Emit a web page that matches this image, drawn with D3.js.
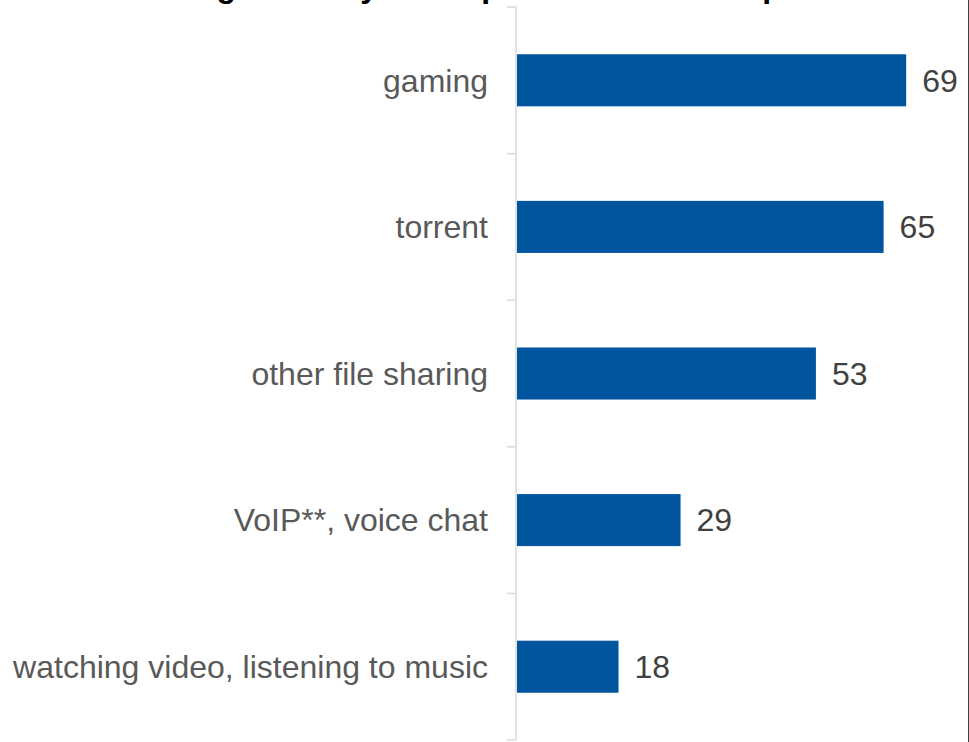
<!DOCTYPE html>
<html>
<head>
<meta charset="utf-8">
<script src="https://cdn.jsdelivr.net/npm/d3@7"></script>
<style>
  html, body { margin: 0; padding: 0; background: #ffffff; }
  svg { display: block; }
  text { font-family: "Liberation Sans", Arial, sans-serif; }
</style>
</head>
<body>
<svg id="chart" width="969" height="742"></svg>
<script>
// Share of users (%) reporting throttling, by activity
const titleText = "Throttling noted by users per online service provider";
const categories = [
  "gaming",
  "torrent",
  "other file sharing",
  "VoIP**, voice chat",
  "watching video, listening to music"
];
const values = [69, 65, 53, 29, 18];

const W = 969, H = 742;
const svg = d3.select("#chart");

const axisX = 516;
const x = d3.scaleLinear().domain([0, 80]).range([axisX + 1, axisX + 1 + 80 * 5.64]);
const y = d3.scaleBand()
  .domain(categories)
  .range([7, 740])
  .paddingInner(0.645)
  .paddingOuter(0.3225);

// Title (sits mostly above the visible area)
svg.append("text")
  .attr("x", W / 2 + 4)
  .attr("y", -3.5)
  .attr("text-anchor", "middle")
  .attr("font-size", 32)
  .attr("font-weight", "bold")
  .attr("fill", "#000000")
  .text(titleText);

// Category axis: vertical line with tick marks at band boundaries
const step = y.step();
const gap = (step - y.bandwidth()) / 2;
const boundaries = categories.map(c => y(c) - gap).concat([y(categories[categories.length - 1]) - gap + step]);

svg.append("line")
  .attr("x1", axisX).attr("x2", axisX)
  .attr("y1", boundaries[0]).attr("y2", boundaries[boundaries.length - 1])
  .attr("stroke", "#d9d9d9").attr("stroke-width", 1.5);

svg.selectAll("line.tick")
  .data(boundaries)
  .join("line")
  .attr("class", "tick")
  .attr("x1", axisX - 9).attr("x2", axisX)
  .attr("y1", d => d).attr("y2", d => d)
  .attr("stroke", "#d9d9d9").attr("stroke-width", 1.5);

// Bars
const data = categories.map((c, i) => ({ cat: c, val: values[i] }));

svg.selectAll("rect.bar")
  .data(data)
  .join("rect")
  .attr("class", "bar")
  .attr("x", x(0))
  .attr("y", d => y(d.cat))
  .attr("width", d => x(d.val) - x(0))
  .attr("height", y.bandwidth())
  .attr("fill", "#00559e");

// Category labels
svg.selectAll("text.cat")
  .data(data)
  .join("text")
  .attr("class", "cat")
  .attr("x", 488)
  .attr("y", d => y(d.cat) + y.bandwidth() / 2)
  .attr("dy", "0.35em")
  .attr("text-anchor", "end")
  .attr("font-size", 32)
  .attr("fill", "#595959")
  .text(d => d.cat);

// Value labels
svg.selectAll("text.val")
  .data(data)
  .join("text")
  .attr("class", "val")
  .attr("x", d => x(d.val) + 16)
  .attr("y", d => y(d.cat) + y.bandwidth() / 2)
  .attr("dy", "0.35em")
  .attr("font-size", 32)
  .attr("fill", "#404040")
  .text(d => d.val);

// Right frame edge
svg.append("line")
  .attr("x1", W - 0.5).attr("x2", W - 0.5)
  .attr("y1", 0).attr("y2", H)
  .attr("stroke", "#404040").attr("stroke-width", 1);
</script>
</body>
</html>
